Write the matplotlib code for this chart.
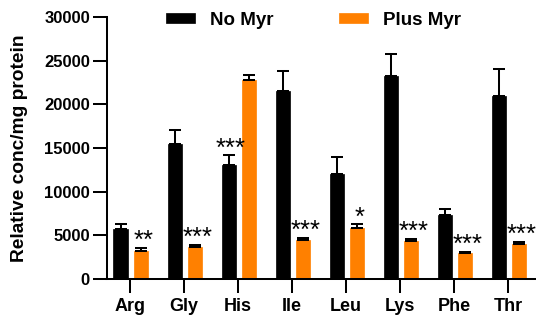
import matplotlib
matplotlib.use("Agg")
import matplotlib.pyplot as plt
import numpy as np

plt.rcParams['font.family'] = ['Liberation Sans', 'DejaVu Sans']

categories = ["Arg", "Gly", "His", "Ile", "Leu", "Lys", "Phe", "Thr"]
no_myr = [5700, 15500, 13050, 21500, 12000, 23300, 7300, 21000]
no_myr_err = [550, 1550, 1100, 2350, 1950, 2450, 700, 3000]
plus_myr = [3250, 3650, 22800, 4450, 5800, 4350, 2980, 3980]
plus_myr_err = [350, 250, 600, 300, 450, 230, 150, 220]
# significance: (category index, series, label)
sig_labels = [(0, "plus", "**"), (1, "plus", "***"), (2, "no", "***"),
              (3, "plus", "***"), (4, "plus", "*"), (5, "plus", "***"),
              (6, "plus", "***"), (7, "plus", "***")]
yticks = [0, 5000, 10000, 15000, 20000, 25000, 30000]

fig = plt.figure(figsize=(5.36, 3.2), dpi=100)
W, H = 536, 320
left_px, bottom_px, top_px = 107, 279, 17
spacing = 54.05
xmin, xmax = -0.425, 7.6
width_px = (xmax - xmin) * spacing
ax = fig.add_axes([left_px / W, (H - bottom_px) / H, width_px / W, (bottom_px - top_px) / H])

x = np.arange(len(categories))
off_no = -0.175
off_plus = 0.205
bw = 0.26
lw = 1.45
orange = '#FF8000'

ax.bar(x + off_no, no_myr, bw, color='black', edgecolor='black', linewidth=0.5, label='No Myr', zorder=2)
ax.bar(x + off_plus, plus_myr, bw, color=orange, edgecolor=orange, linewidth=0.5, label='Plus Myr', zorder=2)
ax.errorbar(x + off_no, no_myr, yerr=[np.zeros(len(x)), no_myr_err], fmt='none',
            ecolor='black', elinewidth=lw, capsize=4.5, capthick=lw, zorder=3)
ax.errorbar(x + off_plus, plus_myr, yerr=[np.zeros(len(x)), plus_myr_err], fmt='none',
            ecolor='black', elinewidth=lw, capsize=4.5, capthick=lw, zorder=3)

for i, s, lab in sig_labels:
    if s == "plus":
        xx = x[i] + off_plus
        yy = plus_myr[i] + plus_myr_err[i]
    else:
        xx = x[i] + off_no
        yy = no_myr[i] + no_myr_err[i]
    ax.annotate(lab, (xx, yy), xytext=(1.5, 0), textcoords='offset points',
                ha='center', va='baseline', fontsize=18.5, family='Liberation Sans',
                annotation_clip=False)

ax.set_xlim(xmin, xmax)
ax.set_ylim(0, 30000)
ax.set_yticks(yticks)
ax.set_yticklabels([str(v) for v in yticks])
ax.set_xticks(x)
ax.set_xticklabels(categories)
for sp in ['top', 'right']:
    ax.spines[sp].set_visible(False)
for sp in ['left', 'bottom']:
    ax.spines[sp].set_linewidth(lw)
ax.tick_params(axis='both', length=9.8, width=lw, color='black')
ax.tick_params(axis='y', labelsize=12, pad=2.5)
ax.tick_params(axis='x', labelsize=13, pad=4)
for t in ax.get_xticklabels() + ax.get_yticklabels():
    t.set_fontweight('bold')

fig.text(20 / W, 1 - 148 / H, 'Relative conc/mg protein', rotation=90, ha='center', va='center',
         fontsize=13.8, fontweight='bold')

ax.legend(loc='upper left', bbox_to_anchor=(166 / W, 1 - 12 / H), bbox_transform=fig.transFigure,
          ncol=2, frameon=False, borderpad=0, borderaxespad=0, handlelength=1.55, handleheight=0.43,
          handletextpad=0.8, columnspacing=3.5, prop={'size': 13.5, 'weight': 'bold'})

fig.savefig('out.png', dpi=100)
